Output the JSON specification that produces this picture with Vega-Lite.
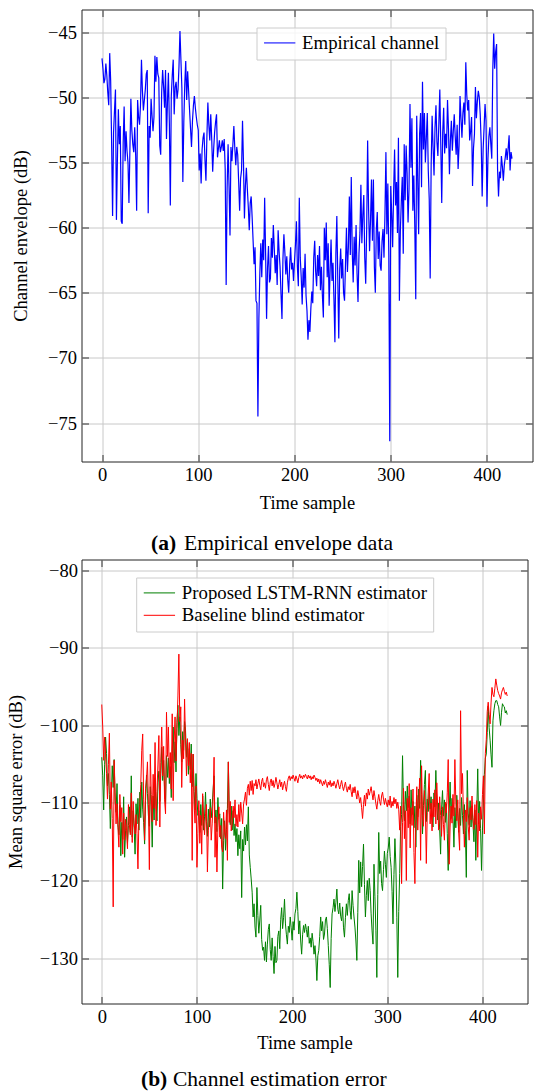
{
"$schema": "https://vega.github.io/schema/vega-lite/v6.json",
"background": "white",
"padding": {"left": 5.5, "top": 8.5, "right": 0, "bottom": 0},
"bounds": "flush",
"spacing": 98,
"resolve": {"scale": {"color": "independent"}, "legend": {"color": "independent"}},
"config": {
  "font": "Liberation Serif",
  "view": {"stroke": "#222", "strokeWidth": 1},
  "axis": {"labelFont": "Liberation Serif", "labelFontSize": 18.5, "labelColor": "black", "titleFont": "Liberation Serif", "titleFontSize": 18.5, "titleFontWeight": "normal", "titleColor": "black", "gridColor": "#c8c8c8", "gridWidth": 1, "gridOpacity": 1, "tickColor": "#333", "tickSize": -7, "tickWidth": 1, "domain": false},
  "axisX": {"labelPadding": 11},
  "legend": {"padding": 6, "labelFont": "Liberation Serif", "labelFontSize": 18.8, "labelColor": "black", "symbolType": "M-2,0H2", "symbolSize": 245, "symbolOffset": 7.8, "symbolStrokeWidth": 1.3, "symbolOpacity": 0.8, "labelOffset": 13, "rowPadding": 2.5, "strokeColor": "#cccccc", "fillColor": "rgba(255,255,255,0.8)", "labelLimit": 400}
},
"vconcat": [
{
  "width": 451, "height": 452,
  "data": {"values": [
{"t":0,"v":-47.0},{"t":1,"v":-47.8},{"t":2,"v":-48.9},{"t":3,"v":-48.6},{"t":4,"v":-47.4},{"t":5,"v":-48.3},{"t":6,"v":-49.6},{"t":7,"v":-50.6},{"t":8,"v":-46.6},{"t":9,"v":-48.7},
{"t":10,"v":-53.5},{"t":11,"v":-59.1},{"t":12,"v":-52.7},{"t":13,"v":-51.0},{"t":14,"v":-49.4},{"t":15,"v":-59.4},{"t":16,"v":-54.8},{"t":17,"v":-50.9},{"t":18,"v":-53.6},{"t":19,"v":-52.2},
{"t":20,"v":-59.5},{"t":21,"v":-59.7},{"t":22,"v":-53.5},{"t":23,"v":-50.7},{"t":24,"v":-54.9},{"t":25,"v":-52.6},{"t":26,"v":-54.1},{"t":27,"v":-55.0},{"t":28,"v":-58.1},{"t":29,"v":-54.0},
{"t":30,"v":-50.1},{"t":31,"v":-52.5},{"t":32,"v":-53.6},{"t":33,"v":-54.2},{"t":34,"v":-52.3},{"t":35,"v":-54.5},{"t":36,"v":-58.7},{"t":37,"v":-50.2},{"t":38,"v":-51.5},{"t":39,"v":-52.1},
{"t":40,"v":-50.6},{"t":41,"v":-47.1},{"t":42,"v":-49.5},{"t":43,"v":-51.0},{"t":44,"v":-50.2},{"t":45,"v":-49.4},{"t":46,"v":-48.2},{"t":47,"v":-47.9},{"t":48,"v":-58.9},{"t":49,"v":-52.2},
{"t":50,"v":-53.1},{"t":51,"v":-50.1},{"t":52,"v":-51.4},{"t":53,"v":-52.6},{"t":54,"v":-51.5},{"t":55,"v":-46.8},{"t":56,"v":-48.8},{"t":57,"v":-46.9},{"t":58,"v":-48.2},{"t":59,"v":-48.5},
{"t":60,"v":-53.7},{"t":61,"v":-54.4},{"t":62,"v":-49.6},{"t":63,"v":-47.9},{"t":64,"v":-49.2},{"t":65,"v":-50.8},{"t":66,"v":-47.9},{"t":67,"v":-53.2},{"t":68,"v":-50.4},{"t":69,"v":-48.1},
{"t":70,"v":-52.0},{"t":71,"v":-58.3},{"t":72,"v":-49.9},{"t":73,"v":-48.3},{"t":74,"v":-47.1},{"t":75,"v":-51.3},{"t":76,"v":-49.2},{"t":77,"v":-48.8},{"t":78,"v":-50.1},{"t":79,"v":-49.4},
{"t":80,"v":-47.6},{"t":81,"v":-44.9},{"t":82,"v":-47.1},{"t":83,"v":-49.3},{"t":84,"v":-56.5},{"t":85,"v":-51.9},{"t":86,"v":-49.0},{"t":87,"v":-47.2},{"t":88,"v":-50.2},{"t":89,"v":-48.0},
{"t":90,"v":-49.5},{"t":91,"v":-51.0},{"t":92,"v":-52.4},{"t":93,"v":-53.8},{"t":94,"v":-51.8},{"t":95,"v":-50.6},{"t":96,"v":-49.9},{"t":97,"v":-50.8},{"t":98,"v":-51.5},{"t":99,"v":-52.1},
{"t":100,"v":-52.5},{"t":101,"v":-55.6},{"t":102,"v":-54.3},{"t":103,"v":-56.6},{"t":104,"v":-54.0},{"t":105,"v":-53.1},{"t":106,"v":-52.7},{"t":107,"v":-54.8},{"t":108,"v":-56.4},{"t":109,"v":-53.0},
{"t":110,"v":-50.4},{"t":111,"v":-52.1},{"t":112,"v":-53.3},{"t":113,"v":-51.3},{"t":114,"v":-53.2},{"t":115,"v":-55.7},{"t":116,"v":-54.0},{"t":117,"v":-52.7},{"t":118,"v":-51.9},{"t":119,"v":-51.3},
{"t":120,"v":-54.6},{"t":121,"v":-53.9},{"t":122,"v":-53.3},{"t":123,"v":-54.2},{"t":124,"v":-53.8},{"t":125,"v":-53.3},{"t":126,"v":-54.1},{"t":127,"v":-53.2},{"t":128,"v":-55.5},{"t":129,"v":-64.4},
{"t":130,"v":-57.0},{"t":131,"v":-53.6},{"t":132,"v":-56.8},{"t":133,"v":-60.6},{"t":134,"v":-53.8},{"t":135,"v":-54.9},{"t":136,"v":-53.6},{"t":137,"v":-52.2},{"t":138,"v":-53.9},{"t":139,"v":-55.2},
{"t":140,"v":-53.8},{"t":141,"v":-54.4},{"t":142,"v":-56.5},{"t":143,"v":-58.7},{"t":144,"v":-56.2},{"t":145,"v":-55.6},{"t":146,"v":-51.8},{"t":147,"v":-55.0},{"t":148,"v":-59.3},{"t":149,"v":-56.8},
{"t":150,"v":-55.4},{"t":151,"v":-57.0},{"t":152,"v":-58.4},{"t":153,"v":-60.2},{"t":154,"v":-58.1},{"t":155,"v":-57.6},{"t":156,"v":-59.2},{"t":157,"v":-61.0},{"t":158,"v":-62.8},{"t":159,"v":-61.5},
{"t":160,"v":-65.6},{"t":161,"v":-65.8},{"t":162,"v":-74.5},{"t":163,"v":-67.0},{"t":164,"v":-63.5},{"t":165,"v":-61.2},{"t":166,"v":-63.8},{"t":167,"v":-60.9},{"t":168,"v":-62.5},{"t":169,"v":-57.7},
{"t":170,"v":-62.0},{"t":171,"v":-67.0},{"t":172,"v":-63.1},{"t":173,"v":-61.4},{"t":174,"v":-64.2},{"t":175,"v":-63.9},{"t":176,"v":-60.8},{"t":177,"v":-62.3},{"t":178,"v":-59.8},{"t":179,"v":-61.6},
{"t":180,"v":-63.5},{"t":181,"v":-62.1},{"t":182,"v":-64.4},{"t":183,"v":-60.2},{"t":184,"v":-61.8},{"t":185,"v":-63.0},{"t":186,"v":-65.1},{"t":187,"v":-67.0},{"t":188,"v":-62.4},{"t":189,"v":-60.5},
{"t":190,"v":-61.9},{"t":191,"v":-63.6},{"t":192,"v":-62.2},{"t":193,"v":-64.0},{"t":194,"v":-65.0},{"t":195,"v":-62.8},{"t":196,"v":-61.5},{"t":197,"v":-63.2},{"t":198,"v":-62.7},{"t":199,"v":-64.1},
{"t":200,"v":-62.6},{"t":201,"v":-61.3},{"t":202,"v":-59.5},{"t":203,"v":-63.0},{"t":204,"v":-64.5},{"t":205,"v":-57.7},{"t":206,"v":-62.3},{"t":207,"v":-63.8},{"t":208,"v":-65.9},{"t":209,"v":-63.1},
{"t":210,"v":-64.6},{"t":211,"v":-62.0},{"t":212,"v":-65.2},{"t":213,"v":-66.4},{"t":214,"v":-68.6},{"t":215,"v":-67.1},{"t":216,"v":-68.0},{"t":217,"v":-66.2},{"t":218,"v":-64.9},{"t":219,"v":-65.8},
{"t":220,"v":-62.3},{"t":221,"v":-61.0},{"t":222,"v":-63.4},{"t":223,"v":-64.5},{"t":224,"v":-62.1},{"t":225,"v":-63.7},{"t":226,"v":-61.4},{"t":227,"v":-64.8},{"t":228,"v":-63.0},{"t":229,"v":-65.2},
{"t":230,"v":-66.9},{"t":231,"v":-60.0},{"t":232,"v":-62.5},{"t":233,"v":-59.6},{"t":234,"v":-63.8},{"t":235,"v":-61.2},{"t":236,"v":-66.0},{"t":237,"v":-63.3},{"t":238,"v":-60.9},{"t":239,"v":-64.1},
{"t":240,"v":-62.7},{"t":241,"v":-65.5},{"t":242,"v":-68.8},{"t":243,"v":-62.0},{"t":244,"v":-59.1},{"t":245,"v":-64.0},{"t":246,"v":-68.5},{"t":247,"v":-63.2},{"t":248,"v":-61.6},{"t":249,"v":-63.9},
{"t":250,"v":-62.4},{"t":251,"v":-65.0},{"t":252,"v":-65.6},{"t":253,"v":-62.8},{"t":254,"v":-60.0},{"t":255,"v":-63.4},{"t":256,"v":-61.5},{"t":257,"v":-57.6},{"t":258,"v":-62.1},{"t":259,"v":-56.1},
{"t":260,"v":-61.8},{"t":261,"v":-64.2},{"t":262,"v":-60.7},{"t":263,"v":-62.9},{"t":264,"v":-59.8},{"t":265,"v":-63.5},{"t":266,"v":-65.7},{"t":267,"v":-62.0},{"t":268,"v":-60.4},{"t":269,"v":-56.7},
{"t":270,"v":-61.2},{"t":271,"v":-59.0},{"t":272,"v":-57.5},{"t":273,"v":-62.3},{"t":274,"v":-64.3},{"t":275,"v":-60.1},{"t":276,"v":-53.3},{"t":277,"v":-58.6},{"t":278,"v":-61.8},{"t":279,"v":-59.4},
{"t":280,"v":-56.3},{"t":281,"v":-61.0},{"t":282,"v":-56.3},{"t":283,"v":-63.0},{"t":284,"v":-65.0},{"t":285,"v":-60.2},{"t":286,"v":-58.8},{"t":287,"v":-62.4},{"t":288,"v":-60.3},{"t":289,"v":-62.9},
{"t":290,"v":-63.3},{"t":291,"v":-61.0},{"t":292,"v":-60.1},{"t":293,"v":-62.3},{"t":294,"v":-59.0},{"t":295,"v":-54.2},{"t":296,"v":-60.5},{"t":297,"v":-56.6},{"t":298,"v":-62.1},{"t":299,"v":-76.4},
{"t":300,"v":-56.8},{"t":301,"v":-58.9},{"t":302,"v":-61.5},{"t":303,"v":-57.2},{"t":304,"v":-54.0},{"t":305,"v":-58.3},{"t":306,"v":-56.5},{"t":307,"v":-60.4},{"t":308,"v":-53.1},{"t":309,"v":-65.6},
{"t":310,"v":-60.2},{"t":311,"v":-58.0},{"t":312,"v":-56.1},{"t":313,"v":-62.0},{"t":314,"v":-53.6},{"t":315,"v":-57.9},{"t":316,"v":-53.7},{"t":317,"v":-55.8},{"t":318,"v":-59.6},{"t":319,"v":-57.0},
{"t":320,"v":-50.5},{"t":321,"v":-55.4},{"t":322,"v":-51.6},{"t":323,"v":-58.7},{"t":324,"v":-56.0},{"t":325,"v":-59.9},{"t":326,"v":-65.5},{"t":327,"v":-51.4},{"t":328,"v":-56.2},{"t":329,"v":-60.5},
{"t":330,"v":-52.8},{"t":331,"v":-51.2},{"t":332,"v":-56.9},{"t":333,"v":-48.8},{"t":334,"v":-54.0},{"t":335,"v":-51.2},{"t":336,"v":-55.0},{"t":337,"v":-53.1},{"t":338,"v":-51.2},{"t":339,"v":-55.6},
{"t":340,"v":-57.8},{"t":341,"v":-63.9},{"t":342,"v":-55.2},{"t":343,"v":-51.4},{"t":344,"v":-53.8},{"t":345,"v":-56.0},{"t":346,"v":-52.3},{"t":347,"v":-50.6},{"t":348,"v":-53.4},{"t":349,"v":-54.5},
{"t":350,"v":-52.0},{"t":351,"v":-49.4},{"t":352,"v":-53.6},{"t":353,"v":-58.1},{"t":354,"v":-52.7},{"t":355,"v":-50.8},{"t":356,"v":-54.3},{"t":357,"v":-52.8},{"t":358,"v":-53.9},{"t":359,"v":-50.2},
{"t":360,"v":-52.4},{"t":361,"v":-55.9},{"t":362,"v":-53.3},{"t":363,"v":-51.8},{"t":364,"v":-54.1},{"t":365,"v":-52.6},{"t":366,"v":-51.3},{"t":367,"v":-53.0},{"t":368,"v":-54.4},{"t":369,"v":-52.1},
{"t":370,"v":-55.5},{"t":371,"v":-53.7},{"t":372,"v":-49.9},{"t":373,"v":-51.6},{"t":374,"v":-53.1},{"t":375,"v":-51.2},{"t":376,"v":-50.4},{"t":377,"v":-52.1},{"t":378,"v":-47.3},{"t":379,"v":-49.8},
{"t":380,"v":-51.0},{"t":381,"v":-50.2},{"t":382,"v":-53.3},{"t":383,"v":-52.6},{"t":384,"v":-51.5},{"t":385,"v":-56.8},{"t":386,"v":-53.9},{"t":387,"v":-52.8},{"t":388,"v":-49.2},{"t":389,"v":-51.6},
{"t":390,"v":-50.3},{"t":391,"v":-49.5},{"t":392,"v":-50.0},{"t":393,"v":-51.3},{"t":394,"v":-53.5},{"t":395,"v":-57.6},{"t":396,"v":-54.0},{"t":397,"v":-52.3},{"t":398,"v":-50.5},{"t":399,"v":-51.8},
{"t":400,"v":-58.4},{"t":401,"v":-54.7},{"t":402,"v":-53.0},{"t":403,"v":-52.3},{"t":404,"v":-53.6},{"t":405,"v":-54.7},{"t":406,"v":-48.0},{"t":407,"v":-45.1},{"t":408,"v":-47.8},{"t":409,"v":-46.5},
{"t":410,"v":-45.9},{"t":411,"v":-55.5},{"t":412,"v":-57.6},{"t":413,"v":-55.7},{"t":414,"v":-56.2},{"t":415,"v":-54.5},{"t":416,"v":-55.3},{"t":417,"v":-56.4},{"t":418,"v":-55.2},{"t":419,"v":-54.6},
{"t":420,"v":-53.9},{"t":421,"v":-54.8},{"t":422,"v":-53.9},{"t":423,"v":-52.9},{"t":424,"v":-55.6},{"t":425,"v":-54.2},{"t":426,"v":-54.7}
  ]},
  "layer": [
    {"mark": {"type": "line", "strokeWidth": 1.2},
     "encoding": {
       "x": {"field": "t", "type": "quantitative", "scale": {"domain": [-21.3, 447.3], "nice": false, "zero": false}, "axis": {"values": [0, 100, 200, 300, 400], "title": "Time sample", "grid": true, "labelFont": "Liberation Serif", "titlePadding": 9}},
       "y": {"field": "v", "type": "quantitative", "scale": {"domain": [-77.95, -43.25], "nice": false, "zero": false}, "axis": {"values": [-75, -70, -65, -60, -55, -50, -45], "title": "Channel envelope (dB)", "grid": true, "labelFont": "Liberation Serif", "labelPadding": 12, "titlePadding": 17}},
       "color": {"datum": "Empirical channel", "scale": {"domain": ["Empirical channel"], "range": ["#0000ff"]}, "legend": {"orient": "none", "legendX": 175, "legendY": 18, "title": null}}
     }},
    {"mark": {"type": "line", "strokeOpacity": 0},
     "encoding": {
       "x": {"field": "t", "type": "quantitative", "axis": {"orient": "top", "values": [0, 100, 200, 300, 400], "labels": false, "title": null, "grid": false}},
       "y": {"field": "v", "type": "quantitative", "axis": {"orient": "right", "values": [-75, -70, -65, -60, -55, -50, -45], "labels": false, "title": null, "grid": false}}
     }},
    {"mark": {"type": "line", "strokeOpacity": 0},
     "encoding": {
       "x": {"field": "t", "type": "quantitative", "axis": {"orient": "bottom", "labels": false, "ticks": false, "grid": false, "domain": false, "title": "(a)", "titleFontWeight": "bold", "titleFontSize": 21.5, "titleX": 69, "titleY": 88, "titleAlign": "left", "titleBaseline": "alphabetic", "titleAngle": 0}},
       "y": {"field": "v", "type": "quantitative", "axis": null}
     }},
    {"mark": {"type": "line", "strokeOpacity": 0},
     "encoding": {
       "x": {"field": "t", "type": "quantitative", "axis": {"orient": "bottom", "labels": false, "ticks": false, "grid": false, "domain": false, "title": "Empirical envelope data", "titleFontWeight": "normal", "titleFontSize": 21.5, "titleX": 102, "titleY": 88, "titleAlign": "left", "titleBaseline": "alphabetic", "titleAngle": 0}},
       "y": {"field": "v", "type": "quantitative", "axis": null}
     }}
  ],
  "resolve": {"axis": {"x": "independent", "y": "independent"}}
},
{
  "width": 446, "height": 444,
  "data": {"values": [
{"t":0,"g":-104.1,"r":-97.3},{"t":1,"g":-106.5,"r":-100.2},{"t":2,"g":-110.9,"r":-104.5},{"t":3,"g":-105.0,"r":-101.5},{"t":4,"g":-101.5,"r":-103.8},{"t":5,"g":-103.6,"r":-106.2},{"t":6,"g":-107.8,"r":-109.5},{"t":7,"g":-106.2,"r":-105.0},{"t":8,"g":-108.9,"r":-101.0},{"t":9,"g":-113.3,"r":-110.8},
{"t":10,"g":-109.4,"r":-107.3},{"t":11,"g":-105.2,"r":-112.0},{"t":12,"g":-108.0,"r":-123.4},{"t":13,"g":-104.4,"r":-104.5},{"t":14,"g":-109.7,"r":-108.6},{"t":15,"g":-111.2,"r":-112.7},{"t":16,"g":-107.5,"r":-110.1},{"t":17,"g":-112.8,"r":-113.2},{"t":18,"g":-114.1,"r":-115.7},{"t":19,"g":-110.3,"r":-108.9},
{"t":20,"g":-116.8,"r":-112.4},{"t":21,"g":-112.5,"r":-110.6},{"t":22,"g":-114.7,"r":-116.6},{"t":23,"g":-109.2,"r":-111.3},{"t":24,"g":-117.0,"r":-114.8},{"t":25,"g":-113.6,"r":-112.1},{"t":26,"g":-111.8,"r":-113.5},{"t":27,"g":-115.2,"r":-115.9},{"t":28,"g":-112.9,"r":-110.2},{"t":29,"g":-110.5,"r":-112.8},
{"t":30,"g":-113.8,"r":-114.1},{"t":31,"g":-106.5,"r":-108.7},{"t":32,"g":-114.4,"r":-115.1},{"t":33,"g":-111.0,"r":-109.8},{"t":34,"g":-113.2,"r":-112.6},{"t":35,"g":-116.6,"r":-114.0},{"t":36,"g":-110.1,"r":-111.5},{"t":37,"g":-112.7,"r":-113.9},{"t":38,"g":-109.4,"r":-118.5},{"t":39,"g":-113.5,"r":-112.2},
{"t":40,"g":-108.6,"r":-110.3},{"t":41,"g":-111.9,"r":-107.6},{"t":42,"g":-107.3,"r":-103.2},{"t":43,"g":-110.8,"r":-101.1},{"t":44,"g":-112.5,"r":-109.5},{"t":45,"g":-115.3,"r":-114.8},{"t":46,"g":-109.7,"r":-108.1},{"t":47,"g":-106.4,"r":-106.9},{"t":48,"g":-108.8,"r":-104.7},{"t":49,"g":-111.6,"r":-110.2},
{"t":50,"g":-113.0,"r":-118.6},{"t":51,"g":-107.9,"r":-103.7},{"t":52,"g":-110.4,"r":-108.9},{"t":53,"g":-115.7,"r":-112.4},{"t":54,"g":-109.1,"r":-106.3},{"t":55,"g":-112.2,"r":-110.7},{"t":56,"g":-106.8,"r":-102.2},{"t":57,"g":-110.5,"r":-112.9},{"t":58,"g":-112.3,"r":-108.5},{"t":59,"g":-107.4,"r":-105.1},
{"t":60,"g":-105.9,"r":-101.3},{"t":61,"g":-109.8,"r":-113.1},{"t":62,"g":-106.2,"r":-104.8},{"t":63,"g":-102.8,"r":-100.2},{"t":64,"g":-107.1,"r":-106.5},{"t":65,"g":-104.5,"r":-102.7},{"t":66,"g":-108.3,"r":-109.6},{"t":67,"g":-110.1,"r":-111.4},{"t":68,"g":-103.9,"r":-98.3},{"t":69,"g":-106.7,"r":-104.0},
{"t":70,"g":-104.2,"r":-100.2},{"t":71,"g":-107.5,"r":-106.8},{"t":72,"g":-105.3,"r":-103.5},{"t":73,"g":-109.3,"r":-108.2},{"t":74,"g":-103.6,"r":-98.5},{"t":75,"g":-100.2,"r":-109.7},{"t":76,"g":-104.8,"r":-102.3},{"t":77,"g":-102.1,"r":-98.9},{"t":78,"g":-106.0,"r":-104.6},{"t":79,"g":-99.6,"r":-100.4},
{"t":80,"g":-97.4,"r":-96.2},{"t":81,"g":-101.3,"r":-90.8},{"t":82,"g":-98.9,"r":-99.5},{"t":83,"g":-102.5,"r":-97.6},{"t":84,"g":-104.7,"r":-108.0},{"t":85,"g":-100.8,"r":-101.9},{"t":86,"g":-103.2,"r":-104.3},{"t":87,"g":-99.5,"r":-96.6},{"t":88,"g":-100.6,"r":-102.0},{"t":89,"g":-104.1,"r":-106.5},
{"t":90,"g":-101.8,"r":-101.7},{"t":91,"g":-106.3,"r":-105.2},{"t":92,"g":-103.0,"r":-102.2},{"t":93,"g":-105.7,"r":-107.4},{"t":94,"g":-102.4,"r":-103.6},{"t":95,"g":-107.9,"r":-117.4},{"t":96,"g":-103.7,"r":-103.7},{"t":97,"g":-108.5,"r":-110.1},{"t":98,"g":-110.9,"r":-112.6},{"t":99,"g":-106.2,"r":-107.8},
{"t":100,"g":-109.4,"r":-118.3},{"t":101,"g":-111.6,"r":-113.9},{"t":102,"g":-111.0,"r":-109.7},{"t":103,"g":-113.8,"r":-115.2},{"t":104,"g":-110.2,"r":-111.6},{"t":105,"g":-112.9,"r":-116.6},{"t":106,"g":-109.1,"r":-108.8},{"t":107,"g":-113.5,"r":-112.3},{"t":108,"g":-111.7,"r":-114.1},{"t":109,"g":-108.6,"r":-111.4},
{"t":110,"g":-112.4,"r":-110.2},{"t":111,"g":-114.3,"r":-118.9},{"t":112,"g":-110.8,"r":-113.5},{"t":113,"g":-113.1,"r":-112.0},{"t":114,"g":-109.5,"r":-110.6},{"t":115,"g":-111.9,"r":-114.8},{"t":116,"g":-110.4,"r":-112.7},{"t":117,"g":-108.2,"r":-109.3},{"t":118,"g":-106.5,"r":-104.1},{"t":119,"g":-112.6,"r":-117.0},
{"t":120,"g":-110.9,"r":-111.8},{"t":121,"g":-113.7,"r":-118.9},{"t":122,"g":-109.3,"r":-113.2},{"t":123,"g":-112.1,"r":-110.5},{"t":124,"g":-111.4,"r":-114.4},{"t":125,"g":-114.6,"r":-112.9},{"t":126,"g":-112.0,"r":-115.7},{"t":127,"g":-121.1,"r":-116.3},{"t":128,"g":-114.8,"r":-111.2},{"t":129,"g":-112.3,"r":-113.8},
{"t":130,"g":-116.1,"r":-114.6},{"t":131,"g":-113.4,"r":-110.9},{"t":132,"g":-110.7,"r":-117.4},{"t":133,"g":-104.7,"r":-104.7},{"t":134,"g":-111.2,"r":-112.5},{"t":135,"g":-112.8,"r":-109.8},{"t":136,"g":-110.4,"r":-113.6},{"t":137,"g":-113.5,"r":-112.7},{"t":138,"g":-111.0,"r":-110.4},{"t":139,"g":-114.2,"r":-111.9},
{"t":140,"g":-112.7,"r":-109.6},{"t":141,"g":-115.0,"r":-113.0},{"t":142,"g":-113.3,"r":-111.5},{"t":143,"g":-116.8,"r":-113.1},{"t":144,"g":-114.1,"r":-110.2},{"t":145,"g":-115.9,"r":-112.4},{"t":146,"g":-113.6,"r":-109.9},{"t":147,"g":-122.2,"r":-111.3},{"t":148,"g":-114.7,"r":-112.7},{"t":149,"g":-116.2,"r":-110.1},
{"t":150,"g":-113.1,"r":-109.5},{"t":151,"g":-115.4,"r":-108.6},{"t":152,"g":-112.8,"r":-110.3},{"t":153,"g":-114.9,"r":-108.1},{"t":154,"g":-110.5,"r":-107.6},{"t":155,"g":-116.7,"r":-109.0},{"t":156,"g":-118.3,"r":-107.2},{"t":157,"g":-119.8,"r":-108.4},{"t":158,"g":-121.5,"r":-107.1},{"t":159,"g":-124.7,"r":-108.9},
{"t":160,"g":-123.0,"r":-107.5},{"t":161,"g":-126.0,"r":-107.8},{"t":162,"g":-127.3,"r":-107.0},{"t":163,"g":-120.9,"r":-108.2},{"t":164,"g":-124.5,"r":-107.5},{"t":165,"g":-126.8,"r":-106.9},{"t":166,"g":-125.1,"r":-107.7},{"t":167,"g":-123.2,"r":-108.3},{"t":168,"g":-127.6,"r":-107.2},{"t":169,"g":-129.0,"r":-106.8},
{"t":170,"g":-128.6,"r":-107.9},{"t":171,"g":-130.3,"r":-107.4},{"t":172,"g":-127.9,"r":-108.1},{"t":173,"g":-130.5,"r":-107.0},{"t":174,"g":-128.2,"r":-106.6},{"t":175,"g":-126.3,"r":-107.6},{"t":176,"g":-125.6,"r":-108.4},{"t":177,"g":-128.9,"r":-107.3},{"t":178,"g":-130.3,"r":-106.9},{"t":179,"g":-127.4,"r":-107.8},
{"t":180,"g":-129.8,"r":-107.1},{"t":181,"g":-132.0,"r":-108.0},{"t":182,"g":-128.5,"r":-107.5},{"t":183,"g":-130.6,"r":-106.7},{"t":184,"g":-130.3,"r":-107.4},{"t":185,"g":-127.2,"r":-108.2},{"t":186,"g":-126.5,"r":-107.6},{"t":187,"g":-128.8,"r":-107.0},{"t":188,"g":-125.0,"r":-107.9},{"t":189,"g":-123.5,"r":-107.3},
{"t":190,"g":-126.2,"r":-108.3},{"t":191,"g":-124.8,"r":-107.7},{"t":192,"g":-122.4,"r":-107.2},{"t":193,"g":-125.6,"r":-107.9},{"t":194,"g":-127.0,"r":-108.5},{"t":195,"g":-128.2,"r":-107.4},{"t":196,"g":-125.9,"r":-106.8},{"t":197,"g":-126.7,"r":-106.5},{"t":198,"g":-124.7,"r":-107.1},{"t":199,"g":-126.1,"r":-106.6},
{"t":200,"g":-127.7,"r":-106.9},{"t":201,"g":-125.3,"r":-106.4},{"t":202,"g":-126.4,"r":-106.8},{"t":203,"g":-124.3,"r":-107.2},{"t":204,"g":-123.6,"r":-106.5},{"t":205,"g":-121.5,"r":-106.9},{"t":206,"g":-124.0,"r":-107.4},{"t":207,"g":-126.9,"r":-106.7},{"t":208,"g":-125.2,"r":-106.3},{"t":209,"g":-127.8,"r":-106.8},
{"t":210,"g":-129.5,"r":-106.5},{"t":211,"g":-127.0,"r":-106.9},{"t":212,"g":-125.8,"r":-106.4},{"t":213,"g":-126.7,"r":-106.7},{"t":214,"g":-125.6,"r":-106.3},{"t":215,"g":-126.3,"r":-106.6},{"t":216,"g":-127.3,"r":-106.9},{"t":217,"g":-125.9,"r":-106.4},{"t":218,"g":-128.1,"r":-106.8},{"t":219,"g":-127.4,"r":-106.5},
{"t":220,"g":-128.6,"r":-107.0},{"t":221,"g":-126.8,"r":-106.6},{"t":222,"g":-127.9,"r":-106.9},{"t":223,"g":-129.5,"r":-106.4},{"t":224,"g":-128.4,"r":-106.7},{"t":225,"g":-130.1,"r":-107.1},{"t":226,"g":-132.9,"r":-106.8},{"t":227,"g":-129.7,"r":-107.3},{"t":228,"g":-129.0,"r":-106.9},{"t":229,"g":-127.2,"r":-107.5},
{"t":230,"g":-124.7,"r":-107.0},{"t":231,"g":-126.5,"r":-107.4},{"t":232,"g":-125.3,"r":-107.8},{"t":233,"g":-127.6,"r":-107.2},{"t":234,"g":-126.9,"r":-107.6},{"t":235,"g":-125.1,"r":-107.0},{"t":236,"g":-124.7,"r":-107.5},{"t":237,"g":-126.2,"r":-108.0},{"t":238,"g":-128.4,"r":-107.3},{"t":239,"g":-130.8,"r":-107.7},
{"t":240,"g":-133.8,"r":-107.1},{"t":241,"g":-127.5,"r":-107.9},{"t":242,"g":-124.3,"r":-107.4},{"t":243,"g":-123.5,"r":-107.8},{"t":244,"g":-122.4,"r":-107.2},{"t":245,"g":-124.0,"r":-107.6},{"t":246,"g":-122.8,"r":-108.1},{"t":247,"g":-121.1,"r":-107.5},{"t":248,"g":-123.7,"r":-107.0},{"t":249,"g":-124.3,"r":-107.7},
{"t":250,"g":-122.9,"r":-108.2},{"t":251,"g":-124.6,"r":-107.6},{"t":252,"g":-125.2,"r":-107.1},{"t":253,"g":-123.4,"r":-107.9},{"t":254,"g":-126.1,"r":-108.4},{"t":255,"g":-127.3,"r":-107.8},{"t":256,"g":-124.8,"r":-107.3},{"t":257,"g":-123.0,"r":-108.1},{"t":258,"g":-124.5,"r":-108.6},{"t":259,"g":-122.6,"r":-107.9},
{"t":260,"g":-121.7,"r":-108.3},{"t":261,"g":-123.9,"r":-107.6},{"t":262,"g":-125.0,"r":-108.5},{"t":263,"g":-121.3,"r":-109.2},{"t":264,"g":-123.2,"r":-108.0},{"t":265,"g":-124.7,"r":-108.7},{"t":266,"g":-126.0,"r":-107.9},{"t":267,"g":-127.8,"r":-108.8},{"t":268,"g":-130.3,"r":-109.5},{"t":269,"g":-124.1,"r":-108.4},
{"t":270,"g":-117.4,"r":-109.1},{"t":271,"g":-121.6,"r":-110.0},{"t":272,"g":-117.6,"r":-109.3},{"t":273,"g":-120.8,"r":-110.6},{"t":274,"g":-118.2,"r":-112.0},{"t":275,"g":-115.3,"r":-110.2},{"t":276,"g":-120.5,"r":-109.0},{"t":277,"g":-124.7,"r":-110.4},{"t":278,"g":-121.9,"r":-108.7},{"t":279,"g":-120.0,"r":-109.5},
{"t":280,"g":-122.6,"r":-108.2},{"t":281,"g":-119.7,"r":-109.0},{"t":282,"g":-121.3,"r":-108.5},{"t":283,"g":-124.3,"r":-107.9},{"t":284,"g":-126.5,"r":-108.8},{"t":285,"g":-128.2,"r":-109.6},{"t":286,"g":-117.9,"r":-108.4},{"t":287,"g":-122.1,"r":-109.2},{"t":288,"g":-126.4,"r":-110.1},{"t":289,"g":-132.5,"r":-110.8},
{"t":290,"g":-121.8,"r":-109.7},{"t":291,"g":-113.8,"r":-108.9},{"t":292,"g":-119.1,"r":-109.8},{"t":293,"g":-117.5,"r":-110.3},{"t":294,"g":-120.4,"r":-109.1},{"t":295,"g":-121.3,"r":-108.6},{"t":296,"g":-118.6,"r":-109.5},{"t":297,"g":-116.2,"r":-110.2},{"t":298,"g":-117.9,"r":-109.4},{"t":299,"g":-119.6,"r":-110.0},
{"t":300,"g":-116.5,"r":-110.5},{"t":301,"g":-115.8,"r":-109.6},{"t":302,"g":-114.4,"r":-110.3},{"t":303,"g":-116.9,"r":-109.1},{"t":304,"g":-118.3,"r":-110.6},{"t":305,"g":-121.4,"r":-109.8},{"t":306,"g":-125.6,"r":-110.4},{"t":307,"g":-119.2,"r":-109.3},{"t":308,"g":-114.6,"r":-110.1},{"t":309,"g":-118.0,"r":-109.5},
{"t":310,"g":-124.8,"r":-110.7},{"t":311,"g":-132.5,"r":-109.9},{"t":312,"g":-124.0,"r":-110.8},{"t":313,"g":-119.1,"r":-113.5},{"t":314,"g":-113.0,"r":-110.4},{"t":315,"g":-111.5,"r":-120.4},{"t":316,"g":-103.9,"r":-112.5},{"t":317,"g":-110.2,"r":-108.1},{"t":318,"g":-112.3,"r":-114.6},{"t":319,"g":-108.5,"r":-111.0},
{"t":320,"g":-111.0,"r":-120.0},{"t":321,"g":-107.8,"r":-109.4},{"t":322,"g":-110.6,"r":-113.2},{"t":323,"g":-109.1,"r":-107.5},{"t":324,"g":-112.7,"r":-115.8},{"t":325,"g":-108.3,"r":-110.6},{"t":326,"g":-111.5,"r":-112.9},{"t":327,"g":-109.8,"r":-108.2},{"t":328,"g":-113.2,"r":-116.4},{"t":329,"g":-110.4,"r":-120.4},
{"t":330,"g":-115.7,"r":-112.1},{"t":331,"g":-109.0,"r":-107.9},{"t":332,"g":-111.8,"r":-113.5},{"t":333,"g":-108.2,"r":-110.1},{"t":334,"g":-110.7,"r":-106.8},{"t":335,"g":-104.5,"r":-117.4},{"t":336,"g":-108.9,"r":-105.2},{"t":337,"g":-114.0,"r":-111.6},{"t":338,"g":-110.3,"r":-113.0},{"t":339,"g":-107.6,"r":-108.4},
{"t":340,"g":-105.8,"r":-110.9},{"t":341,"g":-112.4,"r":-117.8},{"t":342,"g":-109.5,"r":-111.2},{"t":343,"g":-111.1,"r":-108.6},{"t":344,"g":-108.0,"r":-106.2},{"t":345,"g":-110.8,"r":-112.7},{"t":346,"g":-109.2,"r":-110.0},{"t":347,"g":-111.9,"r":-113.6},{"t":348,"g":-113.1,"r":-109.5},{"t":349,"g":-108.7,"r":-111.8},
{"t":350,"g":-110.5,"r":-108.3},{"t":351,"g":-105.8,"r":-112.7},{"t":352,"g":-109.9,"r":-107.4},{"t":353,"g":-112.2,"r":-110.8},{"t":354,"g":-110.0,"r":-113.5},{"t":355,"g":-113.4,"r":-109.2},{"t":356,"g":-116.6,"r":-111.6},{"t":357,"g":-110.8,"r":-114.3},{"t":358,"g":-108.4,"r":-110.5},{"t":359,"g":-111.7,"r":-112.8},
{"t":360,"g":-109.6,"r":-114.8},{"t":361,"g":-112.5,"r":-109.9},{"t":362,"g":-110.1,"r":-111.3},{"t":363,"g":-113.9,"r":-108.7},{"t":364,"g":-118.7,"r":-104.4},{"t":365,"g":-111.3,"r":-117.9},{"t":366,"g":-107.3,"r":-113.1},{"t":367,"g":-112.0,"r":-110.4},{"t":368,"g":-109.4,"r":-112.6},{"t":369,"g":-111.8,"r":-108.9},
{"t":370,"g":-115.7,"r":-111.7},{"t":371,"g":-110.6,"r":-104.4},{"t":372,"g":-113.2,"r":-110.0},{"t":373,"g":-109.0,"r":-112.3},{"t":374,"g":-111.4,"r":-109.6},{"t":375,"g":-113.8,"r":-113.8},{"t":376,"g":-110.7,"r":-116.1},{"t":377,"g":-112.9,"r":-98.1},{"t":378,"g":-109.3,"r":-108.8},{"t":379,"g":-111.6,"r":-106.2},
{"t":380,"g":-114.0,"r":-111.5},{"t":381,"g":-110.2,"r":-115.7},{"t":382,"g":-113.5,"r":-110.9},{"t":383,"g":-119.6,"r":-112.4},{"t":384,"g":-105.8,"r":-109.3},{"t":385,"g":-111.3,"r":-113.0},{"t":386,"g":-112.8,"r":-114.8},{"t":387,"g":-109.7,"r":-110.6},{"t":388,"g":-113.1,"r":-112.2},{"t":389,"g":-110.4,"r":-109.1},
{"t":390,"g":-112.6,"r":-111.9},{"t":391,"g":-115.0,"r":-113.4},{"t":392,"g":-110.9,"r":-110.2},{"t":393,"g":-117.4,"r":-112.8},{"t":394,"g":-111.2,"r":-109.7},{"t":395,"g":-105.6,"r":-117.0},{"t":396,"g":-112.7,"r":-111.3},{"t":397,"g":-109.8,"r":-113.6},{"t":398,"g":-113.3,"r":-110.5},{"t":399,"g":-118.7,"r":-112.1},
{"t":400,"g":-113.5,"r":-108.9},{"t":401,"g":-110.0,"r":-106.5},{"t":402,"g":-106.3,"r":-114.0},{"t":403,"g":-104.2,"r":-103.6},{"t":404,"g":-103.7,"r":-101.8},{"t":405,"g":-100.9,"r":-98.2},{"t":406,"g":-97.5,"r":-97.0},{"t":407,"g":-100.3,"r":-98.6},{"t":408,"g":-101.9,"r":-99.8},{"t":409,"g":-103.8,"r":-97.1},
{"t":410,"g":-105.4,"r":-95.1},{"t":411,"g":-99.4,"r":-96.0},{"t":412,"g":-98.1,"r":-96.3},{"t":413,"g":-97.2,"r":-95.2},{"t":414,"g":-96.8,"r":-94.0},{"t":415,"g":-96.8,"r":-94.8},{"t":416,"g":-97.3,"r":-95.5},{"t":417,"g":-97.6,"r":-95.9},{"t":418,"g":-98.9,"r":-96.2},{"t":419,"g":-100.0,"r":-96.6},
{"t":420,"g":-98.3,"r":-95.8},{"t":421,"g":-97.2,"r":-95.4},{"t":422,"g":-97.5,"r":-95.1},{"t":423,"g":-97.6,"r":-95.6},{"t":424,"g":-98.4,"r":-96.0},{"t":425,"g":-98.1,"r":-95.7},{"t":426,"g":-98.6,"r":-96.2}
  ]},
  "layer": [
    {"mark": {"type": "line", "strokeWidth": 1},
     "encoding": {
       "x": {"field": "t", "type": "quantitative", "scale": {"domain": [-21.3, 447.3], "nice": false, "zero": false}, "axis": {"values": [0, 100, 200, 300, 400], "title": "Time sample", "grid": true, "labelFont": "Liberation Serif", "titlePadding": 7}},
       "y": {"field": "g", "type": "quantitative", "scale": {"domain": [-135.86, -78.6], "nice": false, "zero": false}, "axis": {"values": [-130, -120, -110, -100, -90, -80], "title": "Mean square error (dB)", "grid": true, "labelFont": "Liberation Serif", "labelPadding": 11, "titlePadding": 13.5}},
       "color": {"datum": "Proposed LSTM-RNN estimator", "scale": {"domain": ["Proposed LSTM-RNN estimator", "Baseline blind estimator"], "range": ["#008000", "#ff0000"]}, "legend": {"orient": "none", "legendX": 54.7, "legendY": 18, "title": null}}
     }},
    {"mark": {"type": "line", "strokeWidth": 1},
     "encoding": {
       "x": {"field": "t", "type": "quantitative", "axis": {"orient": "top", "values": [0, 100, 200, 300, 400], "labels": false, "title": null, "grid": false}},
       "y": {"field": "r", "type": "quantitative", "axis": {"orient": "right", "values": [-130, -120, -110, -100, -90, -80], "labels": false, "title": null, "grid": false}},
       "color": {"datum": "Baseline blind estimator"}
     }},
    {"mark": {"type": "line", "strokeOpacity": 0},
     "encoding": {
       "x": {"field": "t", "type": "quantitative", "axis": {"orient": "bottom", "labels": false, "ticks": false, "grid": false, "domain": false, "title": "(b)", "titleFontWeight": "bold", "titleFontSize": 21.5, "titleX": 59, "titleY": 82, "titleAlign": "left", "titleBaseline": "alphabetic", "titleAngle": 0}},
       "y": {"field": "g", "type": "quantitative", "axis": null}
     }},
    {"mark": {"type": "line", "strokeOpacity": 0},
     "encoding": {
       "x": {"field": "t", "type": "quantitative", "axis": {"orient": "bottom", "labels": false, "ticks": false, "grid": false, "domain": false, "title": "Channel estimation error", "titleFontWeight": "normal", "titleFontSize": 21.5, "titleX": 91, "titleY": 82, "titleAlign": "left", "titleBaseline": "alphabetic", "titleAngle": 0}},
       "y": {"field": "g", "type": "quantitative", "axis": null}
     }}
  ],
  "resolve": {"axis": {"x": "independent", "y": "independent"}}
}
]
}
